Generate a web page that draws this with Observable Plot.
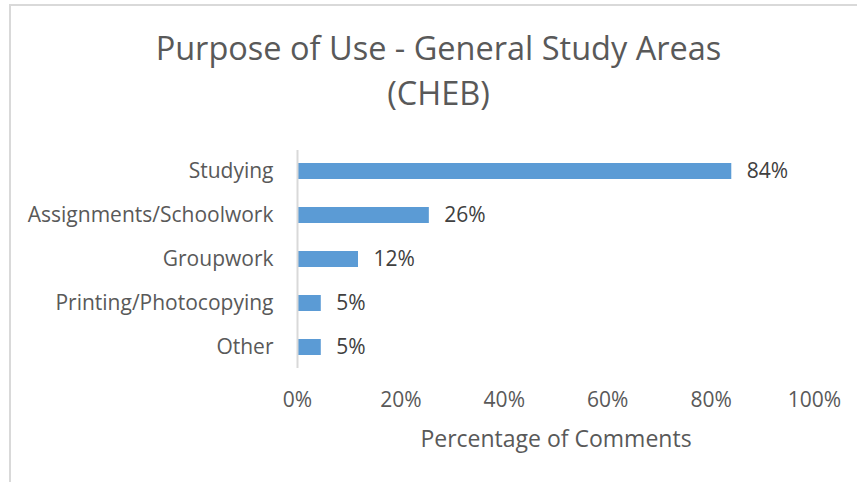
<!DOCTYPE html>
<html><head><meta charset="utf-8">
<script src="https://cdn.jsdelivr.net/npm/d3@7"></script>
<script src="https://cdn.jsdelivr.net/npm/@observablehq/plot@0.6"></script>
<style>
body{margin:0;background:#fff;font-family:"Open Sans",sans-serif;}
#wrap{position:relative;width:857px;height:482px;overflow:hidden;background:#fff;}
#border{position:absolute;left:9px;top:4px;width:900px;height:600px;border-left:2px solid #d9d9d9;border-top:2px solid #d9d9d9;}
#title{position:absolute;left:10px;top:25px;width:857px;text-align:center;color:#595959;font-size:32.5px;line-height:45px;}
#chart{position:absolute;left:0;top:130px;}
</style></head>
<body>
<div id="wrap"><div id="border"></div>
<div id="title">Purpose of Use - General Study Areas<br>(CHEB)</div>
<div id="chart"></div></div>
<script>
const categories = ["Studying","Assignments/Schoolwork","Groupwork","Printing/Photocopying","Other"];
const values = [0.84, 0.255, 0.118, 0.046, 0.046];
const valueLabels = ["84%","26%","12%","5%","5%"];
const xTicks = [0, 0.2, 0.4, 0.6, 0.8, 1.0];
const axisTitle = "Percentage of Comments";

const data = categories.map((c,i)=>({category:c, value:values[i], label:valueLabels[i]}));

const plot = Plot.plot({
  width: 857,
  height: 352,
  marginTop: 20,
  marginBottom: 114,
  marginLeft: 297,
  marginRight: 43,
  style: {fontFamily: '"Open Sans", sans-serif', fontSize: "21px", color: "#595959", background: "transparent"},
  x: {domain: [0, 1]},
  y: {domain: categories, paddingInner: 0.63, paddingOuter: 0.29},
  marks: [
    Plot.barX(data, {x: "value", y: "category", fill: "#5b9bd5"}),
    Plot.ruleX([0], {stroke: "#d9d9d9", strokeWidth: 2}),
    Plot.text(data, {x: "value", y: "category", text: "label", textAnchor: "start", dx: 15, fill: "#404040", fontSize: 21}),
    Plot.axisY({tickSize: 0, tickPadding: 24, label: null, fontSize: 21}),
    Plot.axisX({ticks: xTicks, tickFormat: d3.format(".0%"), tickSize: 0, tickPadding: 24, fontSize: 21,
      label: null}),
    Plot.axisX({ticks: [], tickSize: 0, label: axisTitle, labelAnchor: "center", labelArrow: "none", labelOffset: 78, fontSize: 23})
  ]
});
document.getElementById("chart").appendChild(plot);
</script>
</body></html>
